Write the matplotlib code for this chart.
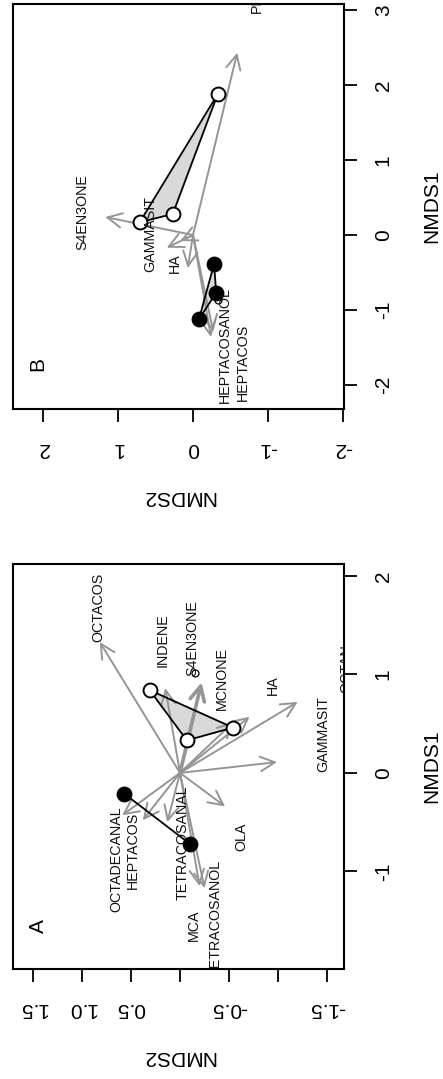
import matplotlib
matplotlib.use("Agg")
import matplotlib.pyplot as plt

plt.rcParams['font.family'] = ['Liberation Sans', 'DejaVu Sans']
plt.rcParams['axes.unicode_minus'] = False

GREY = '#959595'
FILL = '#d9d9d9'

# Panel A (NMDS1, NMDS2)
a_open_nmds1 = [0.84, 0.33, 0.46]
a_open_nmds2 = [0.31, -0.07, -0.54]
a_fill_nmds1 = [-0.21, -0.72]
a_fill_nmds2 = [0.57, -0.10]
a_vec_nmds1 = [1.33, 0.86, 0.92, 0.57, 0.52, 0.72, 0.11, -0.34, -0.43, -0.48, -0.50, -1.15, -1.17]
a_vec_nmds2 = [0.82, 0.15, -0.22, -0.71, -0.55, -1.20, -0.99, -0.46, 0.59, 0.38, 0.13, -0.20, -0.25]
a_vec_lw = [1.4, 1.4, 2.6, 1.4, 1.4, 1.4, 1.4, 1.4, 1.4, 1.4, 1.4, 1.4, 1.4]
a_names = ['OCTACOS', 'INDENE', 'S4EN3ONE', 'MCNONE', 'HA', 'GAMMASIT', 'OLA',
           'OCTADECANAL', 'HEPTACOS', 'TETRACOSANAL', 'MCA', 'TETRACOSANOL', 'OCTAN']
a_lab_nmds1 = [1.68, 1.35, 1.37, 0.96, 0.89, 0.39, -0.65, -0.88, -0.79, -0.71, -1.55, -1.47, 1.06]
a_lab_nmds2 = [0.83, 0.18, -0.13, -0.43, -0.95, -1.46, -0.63, 0.65, 0.48, -0.03, -0.14, -0.36, -1.70]
a_dot_nmds1 = [1.01]
a_dot_nmds2 = [-0.15]
a_xticks = [-1.5, -1.0, -0.5, 0, 0.5, 1.0, 1.5]
a_xticklabels = ['-1.5', '', '-0.5', '', '0.5', '1.0', '1.5']
a_yticks = [-1, 0, 1, 2]

# Panel B
b_open_nmds1 = [1.88, 0.28, 0.17]
b_open_nmds2 = [-0.33, 0.27, 0.71]
b_fill_nmds1 = [-0.39, -0.77, -1.12]
b_fill_nmds2 = [-0.28, -0.31, -0.08]
b_vec_nmds1 = [2.43, 0.24, -0.17, -0.08, -0.44, -1.29, -1.36]
b_vec_nmds2 = [-0.59, 1.17, 0.35, 0.17, 0.07, -0.27, -0.24]
b_vec_lw = [1.4] * 7
b_names = ['PENTACOS', 'S4EN3ONE', 'GAMMASIT', 'HA', 'HEPTACOSANOL', 'HEPTACOS']
b_lab_nmds1 = [3.47, 0.31, 0.01, -0.37, -1.47, -1.70]
b_lab_nmds2 = [-0.85, 1.48, 0.57, 0.24, -0.43, -0.67]
b_dot_nmds1 = [-0.87]
b_dot_nmds2 = [-0.33]
b_xticks = [-2, -1, 0, 1, 2]
b_xticklabels = ['-2', '-1', '0', '1', '2']
b_yticks = [-2, -1, 0, 1, 2, 3]


def draw_panel(ax, tag, tagpos, xlim, ylim, xticks, xticklabels, yticks,
               open1, open2, fill1, fill2, vec1, vec2, veclw,
               names, lab1, lab2, dot1, dot2):
    # polygons under everything
    ax.fill(open2, open1, facecolor=FILL, edgecolor='none', zorder=1)
    if len(fill1) > 2:
        ax.fill(fill2, fill1, facecolor=FILL, edgecolor='none', zorder=1)

    for v1, v2, lw in zip(vec1, vec2, veclw):
        ax.annotate('', xy=(v2, v1), xytext=(0, 0),
                    arrowprops=dict(arrowstyle='->', color=GREY, lw=lw,
                                    shrinkA=0, shrinkB=0, mutation_scale=26),
                    zorder=2)

    ax.fill(open2, open1, facecolor='none', edgecolor='black', lw=1.3, zorder=3)
    if len(fill1) > 2:
        ax.fill(fill2, fill1, facecolor='none', edgecolor='black', lw=1.3, zorder=3)
    else:
        ax.plot(fill2, fill1, color='black', lw=1.3, zorder=3)
    ax.plot(open2, open1, 'o', ms=10, mfc='white', mec='black', mew=1.4, zorder=4)
    ax.plot(fill2, fill1, 'o', ms=10, mfc='black', mec='black', mew=1.4, zorder=4)
    ax.plot(dot2, dot1, 'o', ms=5, mfc='none', mec='black', mew=0.9, zorder=4)

    for name, l1, l2 in zip(names, lab1, lab2):
        ax.text(l2, l1, name, rotation=90, ha='center', va='center',
                fontsize=10.3, color='#111111', clip_on=True, zorder=5)

    ax.text(tagpos[0], tagpos[1], tag, rotation=90, ha='center', va='center',
            fontsize=15, transform=ax.transAxes)

    ax.set_xlim(*xlim)
    ax.set_ylim(*ylim)
    ax.set_xticks(xticks)
    ax.set_xticklabels(xticklabels)
    ax.set_yticks(yticks)
    ax.yaxis.tick_right()
    ax.tick_params(axis='both', direction='out', length=9.5, width=1.3,
                   labelsize=15, pad=12)
    for tk in ax.xaxis.get_major_ticks():
        tk.label1.set_rotation(180)
        tk.label1.set_rotation_mode('default')
        tk.label1.set_ha('center')
        tk.label1.set_va('top')
    for tk in ax.yaxis.get_major_ticks():
        tk.label2.set_rotation(90)
        tk.label2.set_rotation_mode('default')
        tk.label2.set_ha('left')
        tk.label2.set_va('center')
    for s in ax.spines.values():
        s.set_linewidth(1.5)

    ax.set_xlabel('NMDS2', fontsize=15, rotation=180, va='center')
    ax.xaxis.set_label_coords(0.5, -0.217)
    ax.yaxis.set_label_position('right')
    ax.set_ylabel('NMDS1', fontsize=15, rotation=90, va='center', ha='center')
    ax.yaxis.set_label_coords(1.266, 0.5)


fig = plt.figure(figsize=(4.43, 10.79), dpi=100)
axB = fig.add_axes([13 / 443, 1 - 409 / 1079, 331 / 443, 405 / 1079])
axA = fig.add_axes([13 / 443, 1 - 969 / 1079, 331 / 443, 405 / 1079])

draw_panel(axB, 'B', (0.075, 0.11), (2.4, -2.013), (-2.32, 3.08),
           b_xticks, b_xticklabels, b_yticks,
           b_open_nmds1, b_open_nmds2, b_fill_nmds1, b_fill_nmds2,
           b_vec_nmds1, b_vec_nmds2, b_vec_lw,
           b_names, b_lab_nmds1, b_lab_nmds2, b_dot_nmds1, b_dot_nmds2)

draw_panel(axA, 'A', (0.078, 0.105), (1.704, -1.673), (-1.99, 2.12),
           a_xticks, a_xticklabels, a_yticks,
           a_open_nmds1, a_open_nmds2, a_fill_nmds1, a_fill_nmds2,
           a_vec_nmds1, a_vec_nmds2, a_vec_lw,
           a_names, a_lab_nmds1, a_lab_nmds2, a_dot_nmds1, a_dot_nmds2)

fig.savefig('out.png', dpi=100)
